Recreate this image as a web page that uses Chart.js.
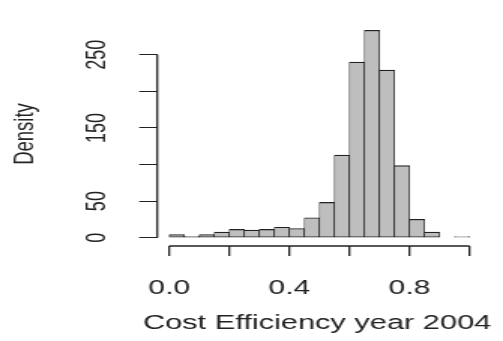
<!DOCTYPE html>
<html>
<head>
<meta charset="utf-8">
<script src="https://cdn.jsdelivr.net/npm/chart.js@4.4.1/dist/chart.umd.min.js"></script>
<style>
  html, body { margin: 0; padding: 0; background: #fff; overflow: hidden; }
  #wrap { width: 503px; height: 341px; }
  /* the reference is an R plot squeezed into a wide box, so stretch it the same way */
  #myChart { transform: scaleX(1.5015); transform-origin: 0 0; }
</style>
</head>
<body>
<div id="wrap"><canvas id="myChart" width="335" height="341"></canvas></div>
<script>
// Histogram break points and the density of each bin
var breaks = [0, 0.05, 0.1, 0.15, 0.2, 0.25, 0.3, 0.35, 0.4, 0.45, 0.5,
              0.55, 0.6, 0.65, 0.7, 0.75, 0.8, 0.85, 0.9, 0.95, 1.0];
var density = [4.3, 2, 4.3, 7.6, 11.3, 10.5, 11.3, 14.3, 12.6, 27.3,
               48.2, 113, 240, 283.5, 229, 98.5, 25.1, 7.6, 0, 1.5];

// Axis ticks (R leaves some ticks without labels)
var xTickValues = [0, 0.2, 0.4, 0.6, 0.8, 1.0];
var xTickLabels = ['0.0', '', '0.4', '', '0.8', ''];
var yTickValues = [0, 50, 100, 150, 200, 250];
var yTickLabels = ['0', '50', '', '150', '', '250'];

var xTitle = 'Cost Efficiency year 2004';
var yTitle = 'Density';

document.addEventListener('DOMContentLoaded', function () {
  var ink = '#222';
  var font = 'Liberation Sans, Arial, sans-serif';

  // bars sit on the bin centres
  var points = density.map(function (d, i) {
    return { x: (breaks[i] + breaks[i + 1]) / 2, y: d };
  });

  // R-like ranges: 4% padding on each side
  var xSpan = breaks[breaks.length - 1] - breaks[0];
  var yMax = Math.max.apply(null, density);

  // R draws the axis line only from first to last tick,
  // and its x label may run past the plot box (Chart.js would squeeze it)
  var axisLines = {
    id: 'axisLines',
    afterDraw: function (chart) {
      var ctx = chart.ctx;
      var xs = chart.scales.x;
      var ys = chart.scales.y;
      ctx.save();
      ctx.strokeStyle = ink;
      ctx.lineWidth = 1.3;
      ctx.beginPath();
      ctx.moveTo(xs.getPixelForValue(xTickValues[0]), xs.top);
      ctx.lineTo(xs.getPixelForValue(xTickValues[xTickValues.length - 1]), xs.top);
      ctx.moveTo(ys.right, ys.getPixelForValue(yTickValues[0]));
      ctx.lineTo(ys.right, ys.getPixelForValue(yTickValues[yTickValues.length - 1]));
      ctx.stroke();

      ctx.fillStyle = ink;
      ctx.font = '20.5px ' + font;
      ctx.textAlign = 'center';
      ctx.textBaseline = 'middle';
      ctx.fillText(xTitle, (xs.left + xs.right) / 2 - 1.5, xs.bottom - 18);
      ctx.restore();
    }
  };

  var ctx = document.getElementById('myChart').getContext('2d');

  var myChart = new Chart(ctx, {
    type: 'bar',
    data: {
      datasets: [{
        label: yTitle,
        data: points,
        backgroundColor: '#bebebe',
        borderColor: ink,
        borderWidth: { top: 1.2, bottom: 1, left: 0.7, right: 0.7 },
        borderSkipped: false,
        barPercentage: 1,
        categoryPercentage: 1
      }]
    },
    options: {
      responsive: false,
      animation: false,
      layout: {
        padding: { top: 2.3, right: 8.8, bottom: 0, left: 0 }
      },
      plugins: {
        legend: { display: false },
        tooltip: { enabled: false }
      },
      scales: {
        x: {
          type: 'linear',
          offset: false,
          min: breaks[0] - 0.04 * xSpan,
          max: breaks[breaks.length - 1] + 0.04 * xSpan,
          afterBuildTicks: function (scale) {
            scale.ticks = xTickValues.map(function (v) { return { value: v }; });
          },
          afterFit: function (scale) { scale.height = 95; },
          grid: { offset: false, drawOnChartArea: false, drawTicks: true, tickLength: 10, color: ink, lineWidth: 1.3 },
          border: { display: false },
          ticks: {
            autoSkip: false,
            maxRotation: 0,
            padding: 22,
            color: ink,
            font: { family: font, size: 20, lineHeight: 1 },
            callback: function (v, i) { return xTickLabels[i]; }
          },
          title: { display: false }
        },
        y: {
          min: -0.04 * yMax,
          max: yMax * 1.04,
          afterBuildTicks: function (scale) {
            scale.ticks = yTickValues.map(function (v) { return { value: v }; });
          },
          afterFit: function (scale) { scale.width = 104.7; },
          grid: { drawOnChartArea: false, drawTicks: true, tickLength: 12, color: ink, lineWidth: 1 },
          border: { display: false },
          ticks: {
            autoSkip: false,
            minRotation: 90,
            maxRotation: 90,
            crossAlign: 'center',
            padding: 13,
            color: ink,
            font: { family: font, size: 18, lineHeight: 1 },
            callback: function (v, i) { return yTickLabels[i]; }
          },
          title: {
            display: true,
            text: yTitle,
            color: ink,
            padding: { top: 7.5, bottom: 0 },
            font: { family: font, size: 18.5, lineHeight: 1 }
          }
        }
      }
    },
    plugins: [axisLines]
  });
});
</script>
</body>
</html>
